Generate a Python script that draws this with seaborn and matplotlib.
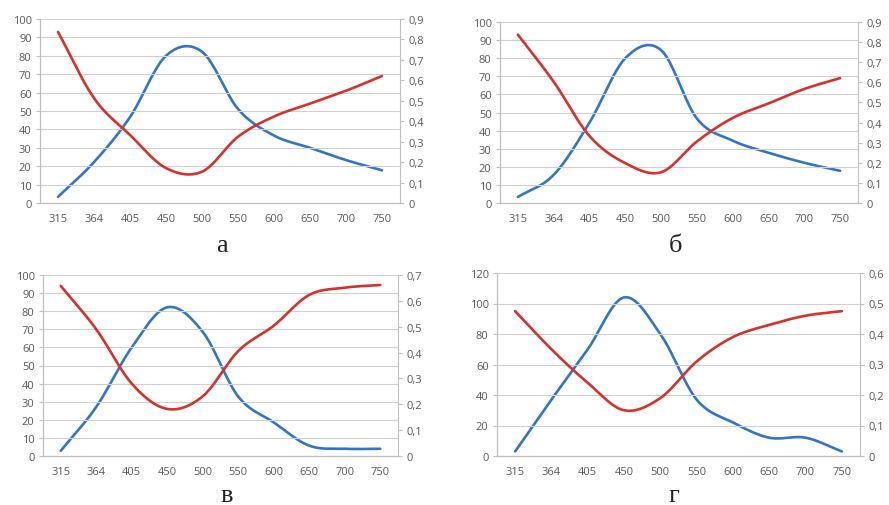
import numpy as np
import pandas as pd
import matplotlib
matplotlib.use("Agg")
import matplotlib.pyplot as plt
from matplotlib.ticker import FuncFormatter, MultipleLocator
import seaborn as sns

sns.set_style("white")
plt.rcParams['font.family'] = ['Open Sans', 'DejaVu Sans']

wavelengths = ["315", "364", "405", "450", "500", "550", "600", "650", "700", "750"]

# transmittance, % (left axis, red)
t_a = [93, 57, 37, 19, 17, 36, 47, 54, 61, 69]
t_b = [93, 67, 37, 22, 17, 34, 47, 55, 63, 69]
t_v = [94, 70, 40, 26, 33, 58, 72, 89, 93, 94.5]
t_g = [95, 70, 48, 30, 38, 62, 78, 86, 92, 95]

# absorbance (right axis, blue)
a_a = [0.03, 0.20, 0.42, 0.72, 0.74, 0.46, 0.33, 0.27, 0.21, 0.16]
a_b = [0.03, 0.14, 0.40, 0.72, 0.76, 0.42, 0.31, 0.25, 0.20, 0.16]
a_v = [0.02, 0.19, 0.42, 0.575, 0.48, 0.23, 0.13, 0.04, 0.028, 0.028]
a_g = [0.015, 0.185, 0.35, 0.52, 0.40, 0.185, 0.11, 0.06, 0.06, 0.015]

captions = ["а", "б", "в", "г"]
left_max = [100, 100, 100, 120]
left_step = [10, 10, 10, 20]
right_max = [0.9, 0.9, 0.7, 0.6]

RED = "#D4322C"
BLUE = "#3375C4"
GREY = "#595959"

W, H = 889, 506
fig = plt.figure(figsize=(W / 100, H / 100), dpi=100)


def smooth(y, n=20):
    # Excel-style "smoothed line": Catmull-Rom through the data points
    y = np.asarray(y, float)
    p = np.concatenate([[2 * y[0] - y[1]], y, [2 * y[-1] - y[-2]]])
    xs, ys = [], []
    for i in range(len(y) - 1):
        p0, p1, p2, p3 = p[i], p[i + 1], p[i + 2], p[i + 3]
        t = np.linspace(0, 1, n, endpoint=False)
        seg = 0.5 * ((2 * p1) + (-p0 + p2) * t + (2 * p0 - 5 * p1 + 4 * p2 - p3) * t ** 2
                     + (-p0 + 3 * p1 - 3 * p2 + p3) * t ** 3)
        xs.append(i + t)
        ys.append(seg)
    xs.append([len(y) - 1])
    ys.append([y[-1]])
    return np.concatenate(xs), np.concatenate(ys)


def comma(v, pos):
    if abs(v) < 1e-9:
        return "0"
    return f"{v:.1f}".replace(".", ",")


# plot boxes (left, top, right, bottom) and caption baselines, in px
boxes = [(40, 20, 400, 204), (500, 23, 858, 204), (43, 276, 398, 457), (497, 274, 860, 457)]
cap_pos = [(222, 252), (675, 252), (227, 502), (674, 502)]
trans_all = [t_a, t_b, t_v, t_g]
abs_all = [a_a, a_b, a_v, a_g]

for i in range(4):
    l, t, r, b = boxes[i]
    ax = fig.add_axes([l / W, 1 - b / H, (r - l) / W, (b - t) / H])
    ax2 = ax.twinx()

    xs, ys = smooth(trans_all[i])
    sns.lineplot(x=xs, y=ys, ax=ax, color=RED, lw=1.9, sort=False, estimator=None)
    xs, ys = smooth(abs_all[i])
    sns.lineplot(x=xs, y=ys, ax=ax2, color=BLUE, lw=1.9, sort=False, estimator=None)

    ax.set_xlim(-0.5, len(wavelengths) - 0.5)
    ax.set_ylim(0, left_max[i])
    ax2.set_ylim(0, right_max[i])
    ax.yaxis.set_major_locator(MultipleLocator(left_step[i]))
    ax2.yaxis.set_major_locator(MultipleLocator(0.1))
    ax2.yaxis.set_major_formatter(FuncFormatter(comma))
    ax.set_xticks(range(len(wavelengths)))
    ax.set_xticklabels(wavelengths)

    ax.grid(axis="y", color="#D0D0D0", lw=0.8)
    ax2.grid(False)
    ax.set_zorder(ax2.get_zorder() + 1)
    ax.patch.set_visible(False)

    for a in (ax, ax2):
        for s in a.spines.values():
            s.set_color("#BFBFBF")
            s.set_linewidth(0.8)
        a.spines["top"].set_visible(False)
    ax.spines["right"].set_visible(False)

    ax.tick_params(axis="x", length=0, labelsize=8, labelcolor=GREY, pad=7)
    ax.tick_params(axis="y", length=3, color="#BFBFBF", labelsize=8, labelcolor=GREY, pad=3)
    ax2.tick_params(axis="y", length=3, color="#BFBFBF", labelsize=8, labelcolor=GREY, pad=3)

    fig.text(cap_pos[i][0] / W, 1 - cap_pos[i][1] / H, captions[i],
             ha="center", va="baseline", fontsize=19, family="Liberation Serif", color="#222222")

fig.savefig("out.png", dpi=100)
